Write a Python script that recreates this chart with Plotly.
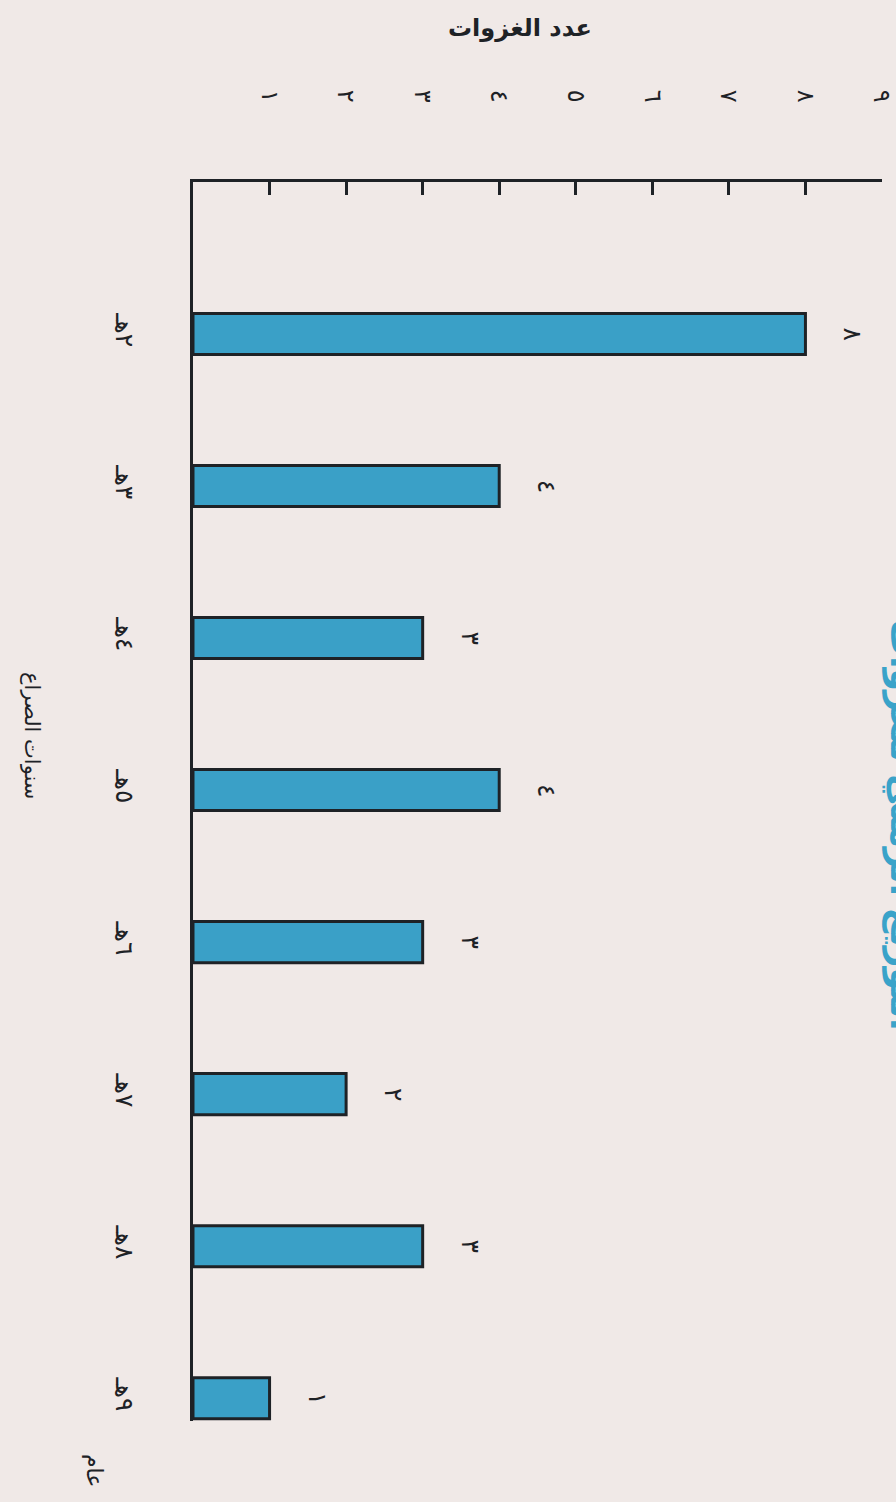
import plotly.graph_objects as go

# ---- data ----
years = ["٢هـ", "٣هـ", "٤هـ", "٥هـ", "٦هـ", "٧هـ", "٨هـ", "٩هـ"]
raids = [8, 4, 3, 4, 3, 2, 3, 1]
raid_labels = ["٨", "٤", "٣", "٤", "٣", "٢", "٣", "١"]
tick_values = [1, 2, 3, 4, 5, 6, 7, 8, 9]
tick_labels = ["١", "٢", "٣", "٤", "٥", "٦", "٧", "٨", "٩"]

BG = "#f0e9e7"
BAR = "#3aa0c7"
INK = "#1e2226"
FONT = "DejaVu Sans"

L, R, T, B = 193, 14, 182, 81
PW, PH = 896 - L - R, 1502 - T - B


def px(x):
    return (x - L) / PW


def py(y):
    return (1502 - B - y) / PH


fig = go.Figure()
fig.add_trace(go.Bar(
    x=raids, y=years, orientation="h",
    width=0.27,
    marker=dict(color=BAR, line=dict(color=INK, width=3)),
    hoverinfo="skip",
))

for v, y, t in zip(raids, years, raid_labels):
    fig.add_annotation(x=v, y=y, xref="x", yref="y", text=t, showarrow=False,
                       textangle=90, xshift=48, font=dict(family=FONT, size=25, color=INK))

# titles
fig.add_annotation(text="<b>عدد الغزوات</b>", showarrow=False,
                   xref="paper", yref="paper", x=px(520), y=py(28),
                   xanchor="center", yanchor="middle",
                   font=dict(family=FONT, size=24, color=INK))
fig.add_annotation(text="سنوات الصراع", textangle=90, showarrow=False,
                   xref="paper", yref="paper", x=px(32), y=py(735),
                   xanchor="center", yanchor="middle",
                   font=dict(family=FONT, size=21, color=INK))
fig.add_annotation(text="عام", textangle=90, showarrow=False,
                   xref="paper", yref="paper", x=px(95), y=py(1470),
                   xanchor="center", yanchor="middle",
                   font=dict(family=FONT, size=22, color=INK))
# partially cut-off blue heading at the right edge (as in the scanned page)
fig.add_annotation(text="<b>التوزيع الزمني للغزوات</b>", textangle=90, showarrow=False,
                   xref="paper", yref="paper", x=px(903), y=py(825),
                   xanchor="center", yanchor="middle",
                   font=dict(family=FONT, size=36, color="#3aa3c9"))

fig.update_layout(
    width=896, height=1502,
    margin=dict(l=L, r=R, t=T, b=B, autoexpand=False),
    paper_bgcolor=BG, plot_bgcolor=BG,
    showlegend=False,
    xaxis=dict(
        side="top", range=[0, 9], tickvals=tick_values, ticktext=tick_labels,
        tickangle=90, ticks="inside", ticklen=13, tickwidth=2.5, tickcolor=INK,
        showline=True, linewidth=3, linecolor=INK, showgrid=False, zeroline=False,
        ticklabelstandoff=68, ticklabeloverflow="allow", automargin=False,
        tickfont=dict(family=FONT, size=24, color=INK),
    ),
    yaxis=dict(
        range=[7.15, -1.0], showline=True, linewidth=3, linecolor=INK,
        showgrid=False, zeroline=False, ticks="", tickangle=90, automargin=False,
        ticklabelstandoff=44, tickfont=dict(family=FONT, size=25, color=INK),
    ),
)

fig.write_html("out.html")
